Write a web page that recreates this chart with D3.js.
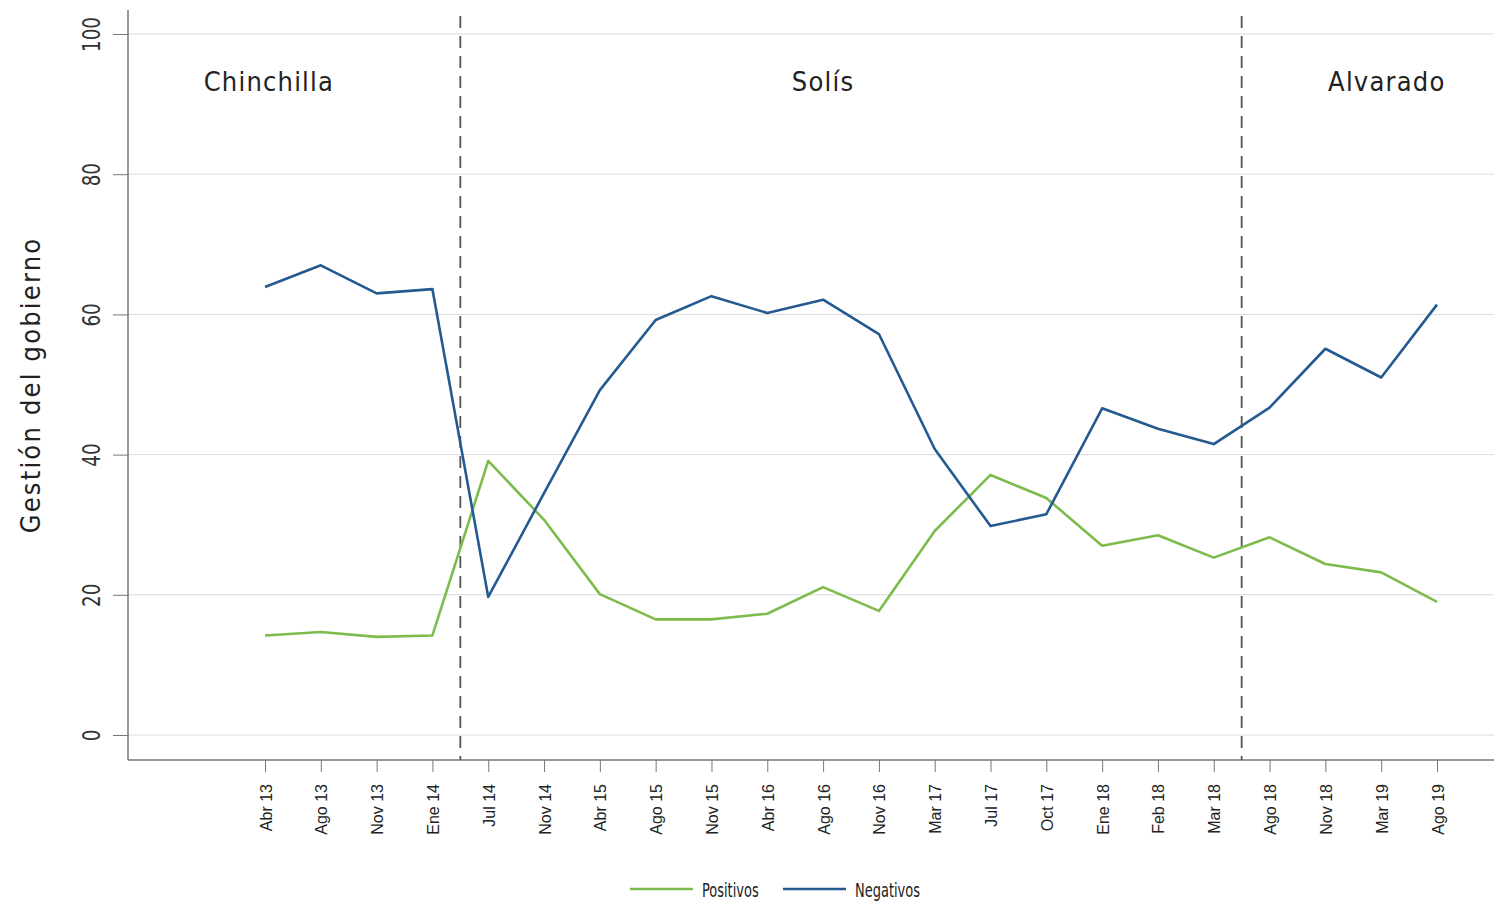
<!DOCTYPE html>
<meta charset="utf-8">
<script src="https://d3js.org/d3.v7.min.js"></script>
<head>
    <title>Gestión del gobierno</title>
    <style>
        body { margin: 0; background: #fff; }
    </style>
</head>
<body>
    <div id="chart"></div>
</body>
<script>
    // survey dates (category labels)
    const fechas = ["Abr 13", "Ago 13", "Nov 13", "Ene 14", "Jul 14", "Nov 14", "Abr 15", "Ago 15",
                    "Nov 15", "Abr 16", "Ago 16", "Nov 16", "Mar 17", "Jul 17", "Oct 17", "Ene 18",
                    "Feb 18", "Mar 18", "Ago 18", "Nov 18", "Mar 19", "Ago 19"];

    const positivos = [14.2, 14.7, 14.0, 14.2, 39.1, 30.7, 20.1, 16.5, 16.5, 17.3, 21.1, 17.7,
                       29.1, 37.1, 33.8, 27.0, 28.5, 25.3, 28.2, 24.4, 23.2, 19.0];
    const negativos = [63.9, 67.0, 63.0, 63.6, 19.7, 34.5, 49.2, 59.2, 62.6, 60.2, 62.1, 57.2,
                       40.8, 29.8, 31.5, 46.6, 43.7, 41.5, 46.7, 55.1, 51.0, 61.4];

    const yTicks = [0, 20, 40, 60, 80, 100];

    // government periods: dashed separators between dates, names on top
    const cortes = [3.5, 17.5];
    const gobiernos = ["Chinchilla", "Solís", "Alvarado"];
    const gobiernoPos = [0.07, 10.0, 20.1];

    const series = [
        {name: "Positivos", values: positivos, color: "#7dbb4c"},
        {name: "Negativos", values: negativos, color: "#245a91"}
    ];

    const width = 1494, height = 902;
    const plot = {left: 128, right: 1494, top: 10, bottom: 760};

    const svg = d3.select("#chart")
        .append("svg")
        .attr("width", width)
        .attr("height", height);

    const x = d3.scaleLinear()
        .domain([0, fechas.length - 1])
        .range([265, 1437]);

    const y = d3.scaleLinear()
        .domain([0, 100])
        .range([735, 34]);

    // gridlines
    svg.append("g")
        .selectAll("line")
        .data(yTicks)
        .join("line")
            .attr("x1", plot.left)
            .attr("x2", plot.right)
            .attr("y1", d => y(d))
            .attr("y2", d => y(d))
            .attr("stroke", "#dcdcdc")
            .attr("stroke-width", 1);

    // y axis
    const yAxis = svg.append("g")
        .attr("transform", `translate(${plot.left},0)`)
        .call(d3.axisLeft(y).tickValues(yTicks).tickSize(15).tickFormat(d3.format("d")));
    yAxis.select(".domain").remove();
    yAxis.selectAll(".tick line").attr("stroke", "#777");
    yAxis.selectAll(".tick text")
        .attr("x", null).attr("dy", null)
        .attr("transform", "translate(-28,0) rotate(-90) scale(0.85,1)")
        .attr("text-anchor", "middle")
        .style("font-family", "'DejaVu Sans Condensed', sans-serif")
        .style("font-size", "24px")
        .attr("fill", "#333");
    svg.append("line")
        .attr("x1", plot.left).attr("x2", plot.left)
        .attr("y1", plot.top).attr("y2", plot.bottom)
        .attr("stroke", "#777").attr("stroke-width", 1.5);

    // x axis
    const xAxis = svg.append("g")
        .attr("transform", `translate(0,${plot.bottom})`)
        .call(d3.axisBottom(x).tickValues(d3.range(fechas.length)).tickSize(12).tickFormat(i => fechas[i]));
    xAxis.select(".domain").remove();
    xAxis.selectAll(".tick line").attr("stroke", "#777");
    xAxis.selectAll(".tick text")
        .attr("y", null).attr("dy", null)
        .attr("transform", "translate(6,24) rotate(-90)")
        .attr("text-anchor", "end")
        .style("font-family", "'Liberation Sans', Arial, sans-serif")
        .style("font-size", "16px")
        .attr("fill", "#222");
    svg.append("line")
        .attr("x1", plot.left).attr("x2", plot.right)
        .attr("y1", plot.bottom).attr("y2", plot.bottom)
        .attr("stroke", "#777").attr("stroke-width", 1.5);

    // y title
    svg.append("text")
        .attr("transform", `translate(40,${(plot.top + plot.bottom) / 2}) rotate(-90)`)
        .attr("text-anchor", "middle")
        .style("font-family", "'DejaVu Sans Condensed', sans-serif")
        .style("font-size", "27px")
        .style("letter-spacing", "2.2px")
        .attr("fill", "#222")
        .text("Gestión del gobierno");

    // period separators
    svg.append("g")
        .selectAll("line")
        .data(cortes)
        .join("line")
            .attr("x1", d => x(d))
            .attr("x2", d => x(d))
            .attr("y1", 16)
            .attr("y2", plot.bottom)
            .attr("stroke", "#555")
            .attr("stroke-width", 1.8)
            .attr("stroke-dasharray", "12,8");

    // government names
    svg.append("g")
        .selectAll("text")
        .data(gobiernos)
        .join("text")
            .attr("x", (d, i) => x(gobiernoPos[i]))
            .attr("y", y(93.2))
            .attr("dy", "0.35em")
            .attr("text-anchor", "middle")
            .style("font-family", "'DejaVu Sans Condensed', sans-serif")
            .style("font-size", "27px")
            .style("letter-spacing", "1.2px")
            .attr("fill", "#222")
            .text(d => d);

    // lines
    const line = d3.line()
        .x((d, i) => x(i))
        .y(d => y(d));

    svg.append("g")
        .selectAll("path")
        .data(series)
        .join("path")
            .attr("d", d => line(d.values))
            .attr("fill", "none")
            .attr("stroke", d => d.color)
            .attr("stroke-width", 2.6)
            .attr("stroke-linejoin", "round");

    // legend
    const legend = svg.append("g")
        .selectAll("g")
        .data(series)
        .join("g")
            .attr("transform", (d, i) => `translate(${630 + i * 153},889)`);
    legend.append("line")
        .attr("x1", 0).attr("x2", 63)
        .attr("stroke", d => d.color)
        .attr("stroke-width", 2.6);
    legend.append("text")
        .attr("transform", "translate(72,8) scale(0.76,1)")
        .style("font-family", "'DejaVu Sans Condensed', sans-serif")
        .style("font-size", "19px")
        .attr("fill", "#222")
        .text(d => d.name);
</script>
